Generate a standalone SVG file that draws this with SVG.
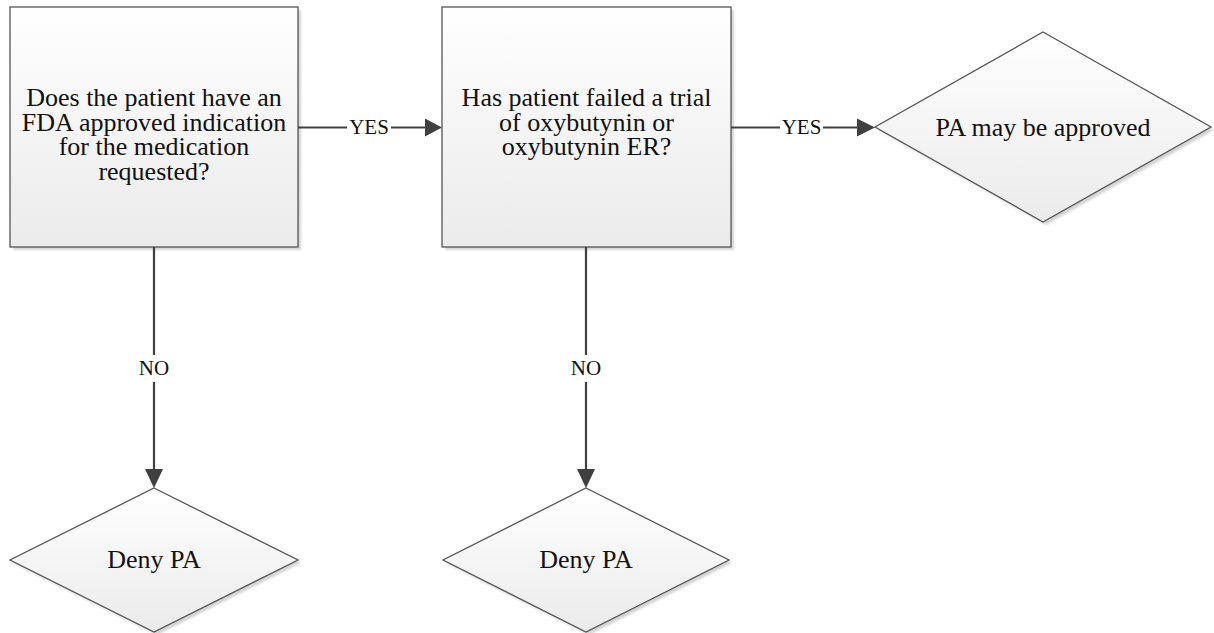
<svg xmlns="http://www.w3.org/2000/svg" width="1214" height="633" viewBox="0 0 1214 633">
<defs>
<linearGradient id="g" x1="0" y1="0" x2="0" y2="1">
<stop offset="0" stop-color="#ffffff"/>
<stop offset="1" stop-color="#ebebeb"/>
</linearGradient>
<filter id="blur" x="-5%" y="-5%" width="110%" height="110%"><feGaussianBlur stdDeviation="1"/></filter>
<style>
.shape{fill:url(#g);stroke:#555;stroke-width:1.3}
.shadow{fill:#d4d4d4;filter:url(#blur)}
text{font-family:'Liberation Serif','Times New Roman',serif;fill:#111;text-anchor:middle}
.t{font-size:26px}
.lbl{font-size:21px}
.c{stroke:#404040;stroke-width:2.2;fill:none}
.ah{fill:#404040}
</style>
</defs>
<rect width="1214" height="633" fill="#fff"/>

<g id="q1">
<rect class="shadow" x="13" y="10" width="288" height="240"/>
<rect class="shape" x="10" y="7" width="288" height="240"/>
<text class="t" x="154" y="106">Does the patient have an</text>
<text class="t" x="154" y="130.5">FDA approved indication</text>
<text class="t" x="154" y="155">for the medication</text>
<text class="t" x="154" y="180">requested?</text>
</g>

<g id="q2">
<rect class="shadow" x="445" y="10" width="289" height="240"/>
<rect class="shape" x="442" y="7" width="289" height="240"/>
<text class="t" x="586.5" y="106">Has patient failed a trial</text>
<text class="t" x="586.5" y="130.5">of oxybutynin or</text>
<text class="t" x="586.5" y="155">oxybutynin ER?</text>
</g>

<g id="approve">
<polygon class="shadow" points="1046,35 1214,130 1046,225 878,130"/>
<polygon class="shape" points="1043,32 1211,127 1043,222 875,127"/>
<text class="t" x="1043" y="136">PA may be approved</text>
</g>

<g id="deny1">
<polygon class="shadow" points="157,491 301,563 157,635 13,563"/>
<polygon class="shape" points="154,488 298,560 154,632 10,560"/>
<text class="t" x="154" y="568">Deny PA</text>
</g>

<g id="deny2">
<polygon class="shadow" points="589,491 732,563 589,635 446,563"/>
<polygon class="shape" points="586,488 729,560 586,632 443,560"/>
<text class="t" x="586" y="568">Deny PA</text>
</g>

<g id="connectors">
<path class="c" d="M298,127.5 H347 M391,127.5 H426"/>
<polygon class="ah" points="425,118.5 442,127.5 425,136.5"/>
<text class="lbl" x="369" y="134">YES</text>

<path class="c" d="M731,127.5 H780 M823,127.5 H858"/>
<polygon class="ah" points="857,118.5 875,127.5 857,136.5"/>
<text class="lbl" x="801.5" y="134">YES</text>

<path class="c" d="M154,247 V355 M154,382 V470"/>
<polygon class="ah" points="145,469 163,469 154,488"/>
<text class="lbl" x="154" y="375">NO</text>

<path class="c" d="M586,247 V355 M586,382 V470"/>
<polygon class="ah" points="577,469 595,469 586,488"/>
<text class="lbl" x="586" y="375">NO</text>
</g>
</svg>
